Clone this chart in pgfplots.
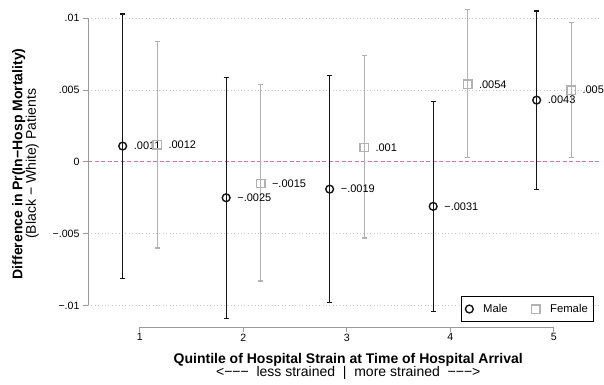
\documentclass[border=0pt]{standalone}
\usepackage{fontspec}
\setmainfont{Liberation Sans}
\usepackage{pgfplots}
\pgfplotsset{compat=1.18}
\usepackage{pgfplotstable}

\definecolor{malec}{gray}{0.08}
\definecolor{femc}{gray}{0.70}
\definecolor{zeroc}{RGB}{205,120,160}
\definecolor{axisc}{gray}{0.6}
\definecolor{gridc}{gray}{0.78}

% Estimated difference (Black - White) with 95% CI, by strain quintile
\pgfplotstableread{
x      y        lo       hi      lab
0.835  0.0011  -0.0081   0.0103  .0011
1.835 -0.0025  -0.0109   0.0059  −.0025
2.835 -0.0019  -0.0098   0.0060  −.0019
3.835 -0.0031  -0.0104   0.0042  −.0031
4.835  0.0043  -0.0019   0.0105  .0043
}\maledata

\pgfplotstableread{
x      y        lo       hi      lab
1.170  0.0012  -0.0060   0.0084  .0012
2.170 -0.0015  -0.0083   0.0054  −.0015
3.170  0.0010  -0.0053   0.0074  .001
4.170  0.0054   0.0003   0.0106  .0054
5.170  0.0050   0.0003   0.0097  .005
}\femaledata

\newcommand{\tickfont}{\fontsize{10.6}{12}\selectfont}
\newcommand{\lblfont}{\fontsize{11}{12}\selectfont}
\newcommand{\legfont}{\fontsize{11.3}{12}\selectfont}
\newcommand{\ttlfont}{\fontsize{14}{13.5}\selectfont}

\begin{document}
\begin{tikzpicture}
\useasboundingbox (0,0) rectangle (604pt,384pt);
\begin{axis}[
  at={(88pt,57pt)}, anchor=south west,
  scale only axis,
  width=512.3pt, height=323.1pt,
  xmin=0.5, xmax=5.45,
  ymin=-0.0115, ymax=0.011,
  clip=false,
  axis x line*=bottom, axis y line*=left,
  axis line style={draw=none},
  tick align=outside,
  major tick length=5pt,
  tick style={axisc, line width=0.8pt},
  xtick={1,2,3,4,5},
  xticklabels={1,2,3,4,5},
  ytick={-0.01,-0.005,0.005,0.01},
  yticklabels={−.01,−.005,.005,.01},
  extra y ticks={0},
  extra y tick labels={0},
  extra y tick style={grid=none},
  ymajorgrids,
  grid style={gridc, line width=0.7pt, dash pattern=on 0.8pt off 2.6pt},
  /pgf/number format/assume math mode=true,
  ticklabel style={font=\tickfont},
  xticklabel style={inner sep=1.5pt},
  xlabel={\textbf{Quintile of Hospital Strain at Time of Hospital Arrival}\\<−−−\ \ less strained\ \ |\ \ more strained\ \ −−−>},
  xlabel style={align=center, font=\ttlfont, at={(axis description cs:0.508,0)}, anchor=north, yshift=-26pt, inner sep=0pt},
  ylabel={\textbf{Difference in Pr(In−Hosp Mortality)}\\(Black − White) Patients},
  ylabel style={align=center, font=\ttlfont, at={(axis description cs:-0.122,0.505)}, anchor=center, inner sep=0pt},
  legend columns=2,
  legend style={at={(0.988,0.0164)}, anchor=south east, draw=black, line width=0.7pt,
    font=\legfont, inner xsep=4pt, inner ysep=5.5pt,
    /tikz/every odd column/.append style={column sep=8pt},
    /tikz/every even column/.append style={column sep=22pt}},
  legend cell align=left,
]
% zero reference line
\addplot[forget plot, zeroc, line width=0.8pt, dash pattern=on 4pt off 2.5pt]
  coordinates {(0.5,0) (5.45,0)};

\addplot[only marks, mark=o, mark size=3.9pt, malec, line width=1.4pt,
  mark options={solid, fill=none},
  nodes near coords, point meta=explicit symbolic,
  nodes near coords style={anchor=west, xshift=10.5pt, font=\lblfont, text=black, inner sep=0pt},
  error bars/.cd, y dir=both, y explicit,
  error bar style={line width=1.3pt, malec},
  error mark options={rotate=90, malec, mark size=2.6pt, line width=1.2pt}]
  table[x=x, y=y, meta=lab,
    y error plus expr=\thisrow{hi}-\thisrow{y},
    y error minus expr=\thisrow{y}-\thisrow{lo}] {\maledata};
\addlegendentry{Male}

\addplot[only marks, mark=square, mark size=4.2pt, femc, line width=1.4pt,
  mark options={solid, fill=none},
  nodes near coords, point meta=explicit symbolic,
  nodes near coords style={anchor=west, xshift=10.5pt, font=\lblfont, text=black, inner sep=0pt},
  error bars/.cd, y dir=both, y explicit,
  error bar style={line width=1.3pt, femc},
  error mark options={rotate=90, femc, mark size=2.6pt, line width=1.2pt}]
  table[x=x, y=y, meta=lab,
    y error plus expr=\thisrow{hi}-\thisrow{y},
    y error minus expr=\thisrow{y}-\thisrow{lo}] {\femaledata};
\addlegendentry{Female}

% range-limited axis lines
\draw[axisc, line width=0.9pt] (axis cs:0.5,-0.01) -- (axis cs:0.5,0.01);
\draw[axisc, line width=0.9pt] (axis cs:1,-0.0115) -- (axis cs:5,-0.0115);
\end{axis}
\end{tikzpicture}
\end{document}
